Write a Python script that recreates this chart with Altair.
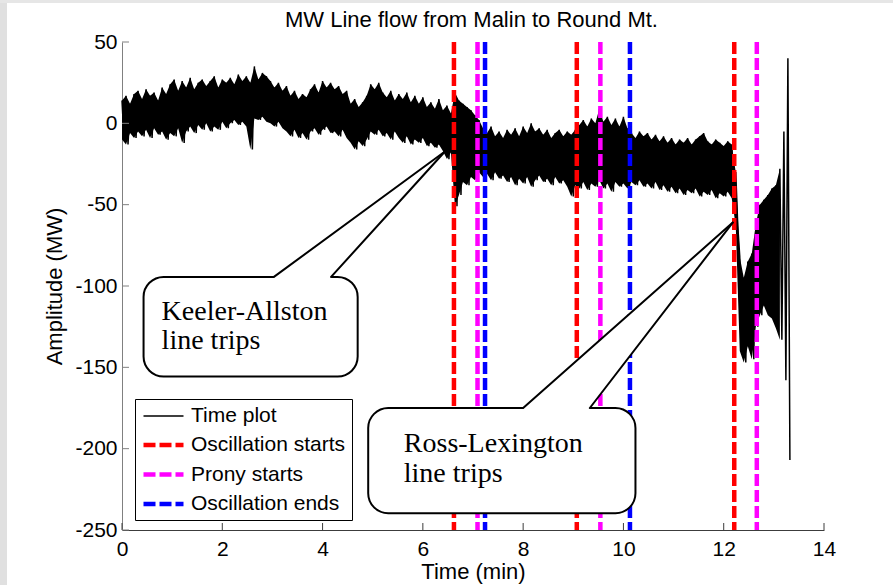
import altair as alt
import pandas as pd

TITLE = "MW Line flow from Malin to Round Mt."

# MW line flow, Malin -> Round Mt.: upper / lower swing of each sample pair (MW)
upper = [
    14, 17, 12, 18, 20, 15, 21, 17, 19, 14,
    22, 18, 24, 27, 20, 26, 22, 28, 21, 25,
    27, 23, 26, 29, 22, 27, 25, 28, 24, 30,
    26, 29, 25, 35, 27, 31, 29, 26, 22, 25,
    20, 23, 17, 20, 15, 18, 16, 21, 24, 19,
    26, 22, 25, 21, 23, 18, 20, 12, 15, 10,
    13, 17, 24, 21, 25, 19, 16, 20, 14, 18,
    15, 19, 13, 17, 12, 16, 10, 13, 9, 15,
    8, 11, 6, 19, 14, 12, 10, 8, 5, 2,
    -3, -6, -2, -8, -5, -9, -4, -7, -3, -8,
    -2, -6, 0, -5, -3, -7, -4, -9, -6, -4,
    -8, -5, -7, -4, -1, 2, -2, 3, 0, 9,
    1, 4, -1, 3, -2, 4, -3, -6, -9, -5,
    -8, -6, -10, -7, -11, -8, -12, -9, -13, -10,
    -12, -9, -13, -10, -8, -6, -11, -13, -10, -12,
    -14, -11, -13, -30, -82, -95, -85, -80, -62, -50,
    -47, -44, -40, -38, -28, -5, 40,
]
lower = [
    -10, -13, -6, -9, -5, -8, -4, -9, -3, -7,
    -5, -10, -6, -8, -3, -12, -5, -2, -6, -1,
    -4, 0, -5, -2, -4, 1, -3, 0, 2, -1,
    1, -2, -16, 3, 2, 4, 1, 0, -2, 1,
    -3, -5, -8, -4, -9, -6, -10, -5, -3, -7,
    -4, -2, -6, -5, -8, -4, -9, -12, -16, -11,
    -14, -10, -5, -7, -4, -8, -6, -10, -5, -9,
    -12, -8, -13, -10, -12, -9, -14, -12, -15, -13,
    -17, -22, -18, -51, -44, -36, -38, -33, -35, -30,
    -33, -31, -35, -30, -34, -32, -36, -33, -38, -34,
    -37, -33, -39, -35, -32, -36, -34, -38, -33, -37,
    -35, -39, -45, -38, -40, -36, -41, -37, -39, -35,
    -40, -37, -42, -36, -39, -37, -40, -36, -38, -35,
    -39, -37, -40, -36, -41, -38, -42, -39, -43, -40,
    -44, -41, -43, -40, -45, -42, -44, -41, -46, -43,
    -45, -42, -46, -63, -140, -147, -137, -145, -125, -118,
    -112, -118, -120, -126, -133, -158, -207,
]
sample_step = 0.04  # minutes between consecutive samples
dense_pairs = 165   # sample pairs drawn as a solid band (before the last two swings)

# Event markers (min)
event_times = [6.62, 7.09, 7.24, 9.07, 9.54, 10.13, 12.21, 12.66]
event_kinds = [
    "Oscillation starts", "Prony starts", "Oscillation ends",
    "Oscillation starts", "Prony starts", "Oscillation ends",
    "Oscillation starts", "Prony starts",
]

legend_labels = ["Time plot", "Oscillation starts", "Prony starts", "Oscillation ends"]
legend_colors = ["#000000", "#ff0000", "#ff00ff", "#0000ff"]
legend_dashes = [[1, 0], [12, 4], [12, 4], [12, 4]]
legend_widths = [1.5, 4.5, 4.5, 4.5]

x_ticks = [0, 2, 4, 6, 8, 10, 12, 14]
y_ticks = [-250, -200, -150, -100, -50, 0, 50]

# Callout bubbles (time in min, amplitude in MW)
callout_lines = [["Keeler-Allston", "line trips"], ["Ross-Lexington", "line trips"]]
callout_text_t = [0.79, 5.62]
callout_text_mw = [[-120.8, -138.9], [-201.8, -220.3]]
box_t0 = [0.43, 4.91]
box_t1 = [4.70, 10.24]
box_top = [-94.4, -175.0]
box_bottom = [-155.7, -239.7]
wedge_left = [3.03, 8.00]
wedge_right = [4.17, 9.33]
tip_t = [6.44, 12.18]
tip_mw = [-17.3, -61.0]

W, H = 702, 488
FONT = "Liberation Sans"

times, values = [], []
for i, (hi, lo) in enumerate(zip(upper, lower)):
    times += [2 * i * sample_step, (2 * i + 1) * sample_step]
    values += [hi, lo]
series = pd.DataFrame({"time": times, "mw": values, "label": "Time plot"})
band = pd.DataFrame({
    "time": [2 * i * sample_step for i in range(dense_pairs)],
    "hi": upper[:dense_pairs], "lo": lower[:dense_pairs],
})
events = pd.DataFrame({"time": event_times, "label": event_kinds})

xs = alt.Scale(domain=[0, 14], nice=False, zero=False)
ys = alt.Scale(domain=[-250, 50], nice=False, zero=False)
color_scale = alt.Scale(domain=legend_labels, range=legend_colors)
dash_scale = alt.Scale(domain=legend_labels, range=legend_dashes)
width_scale = alt.Scale(type="ordinal", domain=legend_labels, range=legend_widths)

legend = alt.Legend(
    title=None, orient="none", legendX=13, legendY=357,
    symbolType="M-1,0H3", symbolSize=400,
    labelFontSize=21, labelFont=FONT, labelColor="black",
    labelOffset=25, labelLimit=400, rowPadding=6.5, padding=6,
    strokeColor="black", fillColor="white",
)

x_axis = alt.Axis(
    values=x_ticks, title="Time (min)", ticks=False, grid=False,
    labelExpr="'' + datum.value",
    domainColor="#3c3c3c", labelFontSize=21, labelColor="black", labelPadding=8,
    labelFlush=False, titleFontSize=22, titleColor="black",
    titleFontWeight="normal", titlePadding=2,
)
y_axis = alt.Axis(
    values=y_ticks, title="Amplitude (MW)", ticks=False, grid=False,
    labelExpr="'' + datum.value",
    domainColor="#808080", labelFontSize=21, labelColor="black", labelPadding=5,
    labelFlush=False, titleFontSize=22, titleColor="black",
    titleFontWeight="normal", titlePadding=8,
)


def X(field):
    return alt.X(field, scale=xs, axis=x_axis)


def Y(field):
    return alt.Y(field, scale=ys, axis=y_axis)


one = pd.DataFrame({"k": [0]})
frame_left = alt.Chart(one).mark_rect(color="#e0e0e0").encode(
    x=alt.value(-122), x2=alt.value(-115), y=alt.value(-42), y2=alt.value(H + 55)
)
frame_top = alt.Chart(one).mark_rect(color="#e6e6e6").encode(
    x=alt.value(-122), x2=alt.value(W + 69), y=alt.value(-42), y2=alt.value(-39)
)
title_text = alt.Chart(one).mark_text(
    text=TITLE, font=FONT, fontSize=22, color="black", align="center", baseline="alphabetic"
).encode(x=alt.value(349.5), y=alt.value(-15.5))

# solid body of the trace between the swing envelopes
trace_body = alt.Chart(band).mark_area(color="black", opacity=1).encode(
    x=X("time:Q"), y=Y("hi:Q"), y2="lo:Q"
)

trace = alt.Chart(series).mark_line(strokeJoin="miter").encode(
    x=X("time:Q"),
    y=Y("mw:Q"),
    color=alt.Color("label:N", scale=color_scale, legend=legend),
    strokeDash=alt.StrokeDash("label:N", scale=dash_scale, legend=legend),
    strokeWidth=alt.StrokeWidth("label:N", scale=width_scale, legend=legend),
)

markers = alt.Chart(events).mark_rule().encode(
    x=X("time:Q"),
    color=alt.Color("label:N", scale=color_scale, legend=legend),
    strokeDash=alt.StrokeDash("label:N", scale=dash_scale, legend=legend),
    strokeWidth=alt.StrokeWidth("label:N", scale=width_scale, legend=legend),
)

# inward-pointing axis ticks
x_tick_marks = alt.Chart(pd.DataFrame({"t": x_ticks})).mark_rule(color="#3c3c3c").encode(
    x=X("t:Q"), y=alt.value(H), y2=alt.value(H - 7)
)
y_tick_marks = alt.Chart(pd.DataFrame({"v": y_ticks})).mark_rule(color="#808080").encode(
    y=Y("v:Q"), x=alt.value(0), x2=alt.value(7)
)

# callout bubbles: rounded body, white wedge, wedge outline, text
bodies = alt.Chart(pd.DataFrame({
    "t0": box_t0, "t1": box_t1, "top": box_top, "bottom": box_bottom,
})).mark_rect(fill="white", stroke="black", strokeWidth=2, cornerRadius=20).encode(
    x=X("t0:Q"), x2="t1:Q", y=Y("top:Q"), y2="bottom:Q",
)

wedge_rows, edge_rows = [], []
for k in range(len(box_top)):
    base = box_top[k]
    xl, xr, xt, yt = wedge_left[k], wedge_right[k], tip_t[k], tip_mw[k]

    def left_edge(x):
        return base + (yt - base) * (x - xl) / (xt - xl)

    dip = 2.0
    for x, top, bot in [
        (xl, base, base - dip),
        (xr, left_edge(xr), base - dip),
        (xr + 0.001, left_edge(xr + 0.001), base),
        (xt, yt, yt),
    ]:
        wedge_rows.append({"id": k, "x": x, "top": top, "bot": bot})
    edge_rows.append({"x": xl, "y": base, "x2": xt, "y2": yt})
    edge_rows.append({"x": xr, "y": base, "x2": xt, "y2": yt})

wedge_fill = alt.Chart(pd.DataFrame(wedge_rows)).mark_area(color="white", opacity=1).encode(
    x=X("x:Q"), y=Y("top:Q"), y2="bot:Q", detail="id:N",
)
wedge_edges = alt.Chart(pd.DataFrame(edge_rows)).mark_rule(
    color="black", strokeWidth=2, strokeCap="round"
).encode(
    x=X("x:Q"), x2="x2:Q", y=Y("y:Q"), y2="y2:Q",
)

text_rows = []
for k, lines in enumerate(callout_lines):
    for line, mw in zip(lines, callout_text_mw[k]):
        text_rows.append({"t": callout_text_t[k], "mw": mw, "text": line})
callout_text = alt.Chart(pd.DataFrame(text_rows)).mark_text(
    align="left", baseline="alphabetic", font="Liberation Serif", fontSize=28, color="black"
).encode(
    x=X("t:Q"), y=Y("mw:Q"), text="text:N",
)

chart = alt.layer(
    frame_left, frame_top, title_text, trace_body, trace, markers,
    x_tick_marks, y_tick_marks, bodies, wedge_fill, wedge_edges, callout_text,
).properties(
    width=W, height=H,
    autosize=alt.AutoSizeParams(type="none"),
    padding={"left": 122, "top": 42, "right": 69, "bottom": 55},
).configure(
    font=FONT, background="white"
).configure_view(stroke="transparent")

chart.save("out.html", embed_options={"renderer": "svg", "actions": False})
